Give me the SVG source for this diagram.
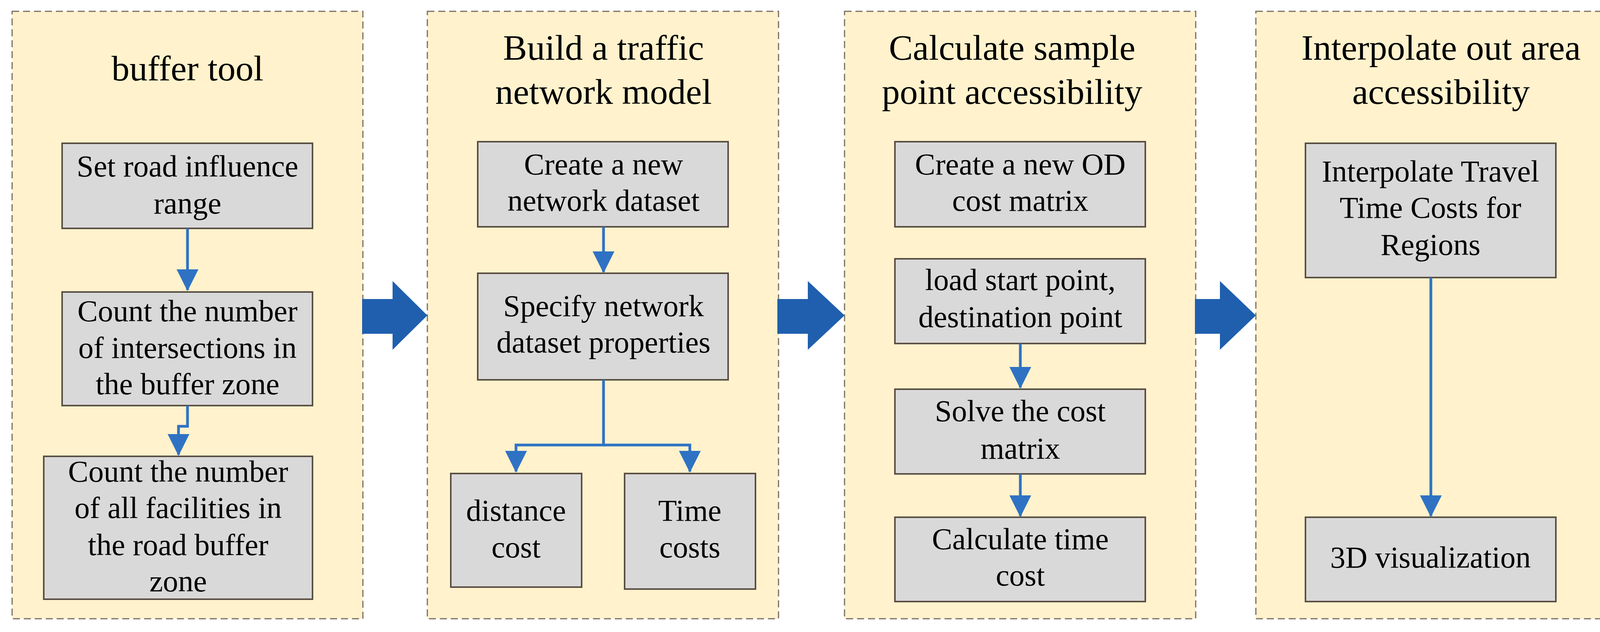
<svg xmlns="http://www.w3.org/2000/svg" width="4133" height="1619" viewBox="0 0 4133 1619">
<defs>
<style>
.panel{fill:#fff2cc;stroke:#7a6f62;stroke-width:3;stroke-dasharray:18,10}
.box{fill:#d9d9d9;stroke:#5a4e44;stroke-width:4}
.t{font-family:"Liberation Serif","Times New Roman",serif;font-size:78px;fill:#000;text-anchor:middle}
.h{font-family:"Liberation Serif","Times New Roman",serif;font-size:92px;fill:#000;text-anchor:middle}
.c{fill:none;stroke:#2f72c4;stroke-width:7}
.big{fill:#1f5fae}
</style>
<marker id="ah" markerWidth="8" markerHeight="8" refX="7.6" refY="4" orient="auto" markerUnits="strokeWidth">
<path d="M0,0 L8,4 L0,8 Z" fill="#2f72c4"/>
</marker>
</defs>
<rect width="4133" height="1619" fill="#fff"/>

<g id="panel1">
<rect class="panel" x="31" y="29" width="898" height="1556"/>
<text class="h" x="480" y="206">buffer tool</text>
</g>
<g id="panel2">
<rect class="panel" x="1094" y="29" width="899" height="1556"/>
<text class="h" x="1545" y="153">Build a traffic</text>
<text class="h" x="1545" y="266">network model</text>
</g>
<g id="panel3">
<rect class="panel" x="2162" y="29" width="899" height="1556"/>
<text class="h" x="2591" y="153">Calculate sample</text>
<text class="h" x="2591" y="266">point accessibility</text>
</g>
<g id="panel4">
<rect class="panel" x="3215" y="29" width="897" height="1556"/>
<text class="h" x="3689" y="153">Interpolate out area</text>
<text class="h" x="3689" y="266">accessibility</text>
</g>

<g id="n1"><rect class="box" x="159" y="367" width="641" height="218"/>
<text class="t" x="480" y="452">Set road influence</text><text class="t" x="480" y="547">range</text></g>
<g id="n2"><rect class="box" x="159" y="748" width="641" height="291"/>
<text class="t" x="480" y="823">Count the number</text><text class="t" x="480" y="917">of intersections in</text><text class="t" x="480" y="1010">the buffer zone</text></g>
<g id="n3"><rect class="box" x="112" y="1169" width="688" height="366"/>
<text class="t" x="456" y="1234">Count the number</text><text class="t" x="456" y="1327">of all facilities in</text><text class="t" x="456" y="1422">the road buffer</text><text class="t" x="456" y="1515">zone</text></g>

<g id="n4"><rect class="box" x="1223" y="363" width="641" height="218"/>
<text class="t" x="1545" y="447">Create a new</text><text class="t" x="1545" y="540">network dataset</text></g>
<g id="n5"><rect class="box" x="1223" y="700" width="641" height="273"/>
<text class="t" x="1545" y="810">Specify network</text><text class="t" x="1545" y="903">dataset properties</text></g>
<g id="n6"><rect class="box" x="1154" y="1213" width="335" height="291"/>
<text class="t" x="1321" y="1334">distance</text><text class="t" x="1321" y="1428">cost</text></g>
<g id="n7"><rect class="box" x="1599" y="1213" width="335" height="296"/>
<text class="t" x="1766" y="1334">Time</text><text class="t" x="1766" y="1428">costs</text></g>

<g id="n8"><rect class="box" x="2291" y="363" width="641" height="218"/>
<text class="t" x="2612" y="447">Create a new OD</text><text class="t" x="2612" y="540">cost matrix</text></g>
<g id="n9"><rect class="box" x="2291" y="663" width="641" height="217"/>
<text class="t" x="2612" y="743">load start point,</text><text class="t" x="2612" y="838">destination point</text></g>
<g id="n10"><rect class="box" x="2291" y="997" width="641" height="217"/>
<text class="t" x="2612" y="1079">Solve the cost</text><text class="t" x="2612" y="1175">matrix</text></g>
<g id="n11"><rect class="box" x="2291" y="1325" width="641" height="216"/>
<text class="t" x="2612" y="1407">Calculate time</text><text class="t" x="2612" y="1500">cost</text></g>

<g id="n12"><rect class="box" x="3342" y="367" width="641" height="344"/>
<text class="t" x="3662" y="465">Interpolate Travel</text><text class="t" x="3662" y="558">Time Costs for</text><text class="t" x="3662" y="653">Regions</text></g>
<g id="n13"><rect class="box" x="3342" y="1325" width="641" height="216"/>
<text class="t" x="3662" y="1454">3D visualization</text></g>

<g id="connectors">
<path class="c" marker-end="url(#ah)" d="M480,585 V743"/>
<path class="c" marker-end="url(#ah)" d="M480,1039 V1092 H457 V1165"/>
<path class="c" marker-end="url(#ah)" d="M1545,581 V697"/>
<path class="c" marker-end="url(#ah)" d="M1545,973 V1140 H1321 V1208"/>
<path class="c" marker-end="url(#ah)" d="M1545,1140 H1766 V1208"/>
<path class="c" marker-end="url(#ah)" d="M2612,880 V993"/>
<path class="c" marker-end="url(#ah)" d="M2612,1214 V1322"/>
<path class="c" marker-end="url(#ah)" d="M3663,711 V1322"/>
<polygon class="big" points="927,766 1005,766 1005,720 1094,808 1005,896 1005,855 927,855"/>
<polygon class="big" points="1990,766 2068,766 2068,720 2162,808 2068,896 2068,855 1990,855"/>
<polygon class="big" points="3059,766 3123,766 3123,720 3215,808 3123,896 3123,855 3059,855"/>
</g>
</svg>
